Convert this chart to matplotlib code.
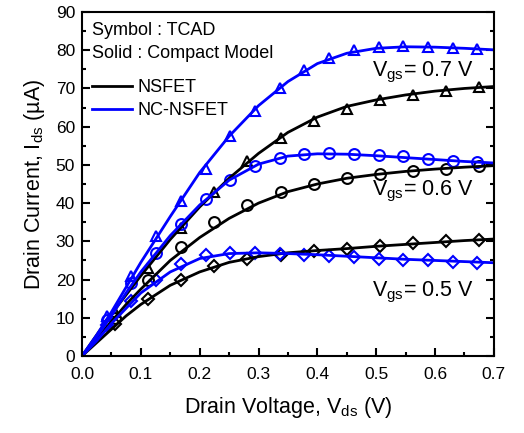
import matplotlib.pyplot as plt
from matplotlib.ticker import MultipleLocator

plt.rcParams['font.family'] = ['Liberation Sans', 'DejaVu Sans']
plt.rcParams['mathtext.fontset'] = 'custom'
plt.rcParams['mathtext.rm'] = 'Liberation Sans'
plt.rcParams['mathtext.it'] = 'Liberation Sans'

# TCAD symbols
vds_ns = [0.056, 0.113, 0.169, 0.225, 0.281, 0.338, 0.394, 0.45, 0.506, 0.563, 0.619, 0.675]
ns_07 = [11.5, 23, 33.5, 43, 51, 57, 61.5, 64.5, 67, 68.3, 69.4, 70.3]
ns_06 = [10, 20, 28.5, 35, 39.5, 43, 45, 46.5, 47.5, 48.3, 49, 49.8]
ns_05 = [8.5, 15, 20, 23.5, 25.5, 26.5, 27.6, 28.1, 28.8, 29.5, 30, 30.4]

vds_nc = [0.042, 0.084, 0.126, 0.168, 0.21, 0.252, 0.294, 0.336, 0.378, 0.42,
          0.462, 0.504, 0.546, 0.588, 0.63, 0.672]
nc_07 = [10.5, 21, 31.5, 40.5, 49, 57.5, 64, 70, 74.8, 78, 80, 80.8, 81.2, 80.9, 80.5, 80.2]
nc_06 = [9.5, 19, 27, 34.5, 41, 46, 49.7, 51.7, 52.8, 53, 52.9, 52.6, 52.2, 51.5, 51.1, 50.7]
nc_05 = [8, 14.5, 20, 24.2, 26.4, 27, 27, 26.8, 26.5, 26.2, 25.9, 25.5, 25.2, 25, 24.7, 24.4]

# compact model curves
vds_cm = [0, 0.025, 0.05, 0.075, 0.1, 0.15, 0.2, 0.25, 0.3, 0.35, 0.4, 0.45, 0.5,
          0.55, 0.6, 0.65, 0.7]
cm_ns_07 = [0, 5.5, 11, 16, 21, 30.5, 39, 46.5, 53, 58.5, 62.5, 65.3, 67, 68.3, 69.3, 70, 70.5]
cm_ns_06 = [0, 4.5, 9, 13.5, 17.5, 25, 31, 36, 40, 43, 45, 46.5, 47.5, 48.3, 48.9, 49.4, 49.8]
cm_ns_05 = [0, 3.5, 7, 10.5, 13.5, 18.5, 22, 24.5, 26, 27, 27.6, 28.1, 28.7, 29.2, 29.7, 30.2, 30.6]
cm_nc_07 = [0, 5.5, 11.5, 18, 24.5, 36.5, 48, 57.5, 65.5, 71.8, 76.5, 79.2, 80.5, 80.9, 80.8, 80.5, 80.1]
cm_nc_06 = [0, 5, 10.5, 16.5, 22, 31.5, 39.5, 46, 50.2, 52.3, 52.9, 52.8, 52.4, 51.9, 51.4, 50.9, 50.5]
cm_nc_05 = [0, 4, 8.5, 12.5, 16.5, 22, 25.5, 26.8, 27, 26.8, 26.5, 26.1, 25.7, 25.3, 25, 24.7, 24.4]

fig = plt.figure(figsize=(5.24, 4.33), dpi=100)
ax = fig.add_axes([0.1565, 0.1778, 0.786, 0.7945])

lw = 2.0
for y, m in [(ns_07, '^'), (ns_06, 'o'), (ns_05, 'D')]:
    ax.plot(vds_ns, y, ls='none', marker=m, color='black', mfc='none', mew=1.5,
            ms=6.5 if m == 'D' else 7.8)
for y, m in [(nc_07, '^'), (nc_06, 'o'), (nc_05, 'D')]:
    ax.plot(vds_nc, y, ls='none', marker=m, color='#0000ff', mfc='none', mew=1.5,
            ms=6.5 if m == 'D' else 7.8)

l1, = ax.plot(vds_cm, cm_ns_07, color='black', lw=lw, label='NSFET')
ax.plot(vds_cm, cm_ns_06, color='black', lw=lw)
ax.plot(vds_cm, cm_ns_05, color='black', lw=lw)
l2, = ax.plot(vds_cm, cm_nc_07, color='#0000ff', lw=lw, label='NC-NSFET')
ax.plot(vds_cm, cm_nc_06, color='#0000ff', lw=lw)
ax.plot(vds_cm, cm_nc_05, color='#0000ff', lw=lw)

ax.set_xlim(0, 0.7)
ax.set_ylim(0, 90)
ax.xaxis.set_major_locator(MultipleLocator(0.1))
ax.xaxis.set_minor_locator(MultipleLocator(0.05))
ax.yaxis.set_major_locator(MultipleLocator(10))
ax.yaxis.set_minor_locator(MultipleLocator(5))
ax.tick_params(which='both', direction='in', right=True, top=False, labelsize=12.5, width=1.5)
ax.tick_params(which='major', length=6)
ax.tick_params(which='minor', length=3)
ax.tick_params(axis='x', pad=8)
ax.tick_params(axis='y', pad=5)
for s in ax.spines.values():
    s.set_linewidth(1.5)

ax.set_xlabel('Drain Voltage, V$_{\\mathrm{ds}}$ (V)', fontsize=15.5, labelpad=9)
ax.set_ylabel('Drain Current, I$_{\\mathrm{ds}}$ (\u00b5A)', fontsize=15.5, labelpad=6)

ax.text(0.024, 0.933, 'Symbol : TCAD', transform=ax.transAxes, fontsize=13)
ax.text(0.024, 0.866, 'Solid : Compact Model', transform=ax.transAxes, fontsize=13)
ax.legend(handles=[l1, l2], loc='upper left', bbox_to_anchor=(0.024, 0.805), frameon=False,
          fontsize=13, handlelength=2.2, handletextpad=0.3, labelspacing=0.35,
          borderpad=0, borderaxespad=0)

ax.text(0.704, 0.814, 'V$_{\\mathrm{gs}}$= 0.7 V', transform=ax.transAxes, fontsize=15.5)
ax.text(0.704, 0.468, 'V$_{\\mathrm{gs}}$= 0.6 V', transform=ax.transAxes, fontsize=15.5)
ax.text(0.704, 0.172, 'V$_{\\mathrm{gs}}$= 0.5 V', transform=ax.transAxes, fontsize=15.5)

fig.savefig('out.png', dpi=100)
